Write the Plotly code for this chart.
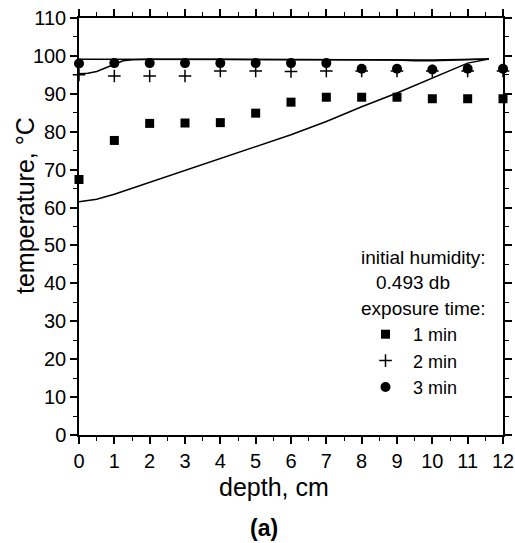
import plotly.graph_objects as go

# measured data
depth = [0, 1, 2, 3, 4, 5, 6, 7, 8, 9, 10, 11, 12]
temp_1min = [67.4, 77.7, 82.2, 82.3, 82.4, 84.9, 87.8, 89.1, 89.1, 89.1, 88.7, 88.7, 88.7]
temp_2min = [95.0, 94.7, 94.7, 94.7, 96.0, 96.0, 95.9, 96.0, 96.0, 96.0, 96.0, 96.0, 96.0]
temp_3min = [98.0, 98.1, 98.1, 98.1, 98.1, 98.1, 98.1, 98.1, 96.6, 96.6, 96.4, 96.6, 96.6]

# model curves
model1_x = [0, 0.5, 1, 2, 3, 4, 5, 6, 7, 8, 9, 10, 11, 11.6]
model1_y = [61.5, 62.2, 63.5, 66.6, 69.8, 73.0, 76.0, 79.2, 82.7, 86.6, 90.2, 94.1, 98.1, 99.2]
model2_x = [0, 0.25, 0.5, 0.75, 1, 1.25, 1.5, 2, 4, 6, 8, 10, 11.6]
model2_y = [95.3, 95.4, 95.9, 96.9, 97.9, 98.7, 99.0, 99.1, 99.1, 99.0, 99.0, 98.9, 99.2]
model3_x = [0, 2, 4, 6, 8, 9, 9.5, 10, 10.5, 11, 11.6]
model3_y = [99.1, 99.1, 99.0, 99.0, 99.0, 98.9, 98.7, 98.7, 98.8, 99.0, 99.2]

legend_names = ["1 min", "2 min", "3 min"]

FONT = "Liberation Sans, Arial, sans-serif"
L, R, T, B = 79, 12, 18, 108
W, H = 515, 543
pw, ph = W - L - R, H - T - B

def px(x):
    return (x - L) / pw

def py(y):
    return (H - B - y) / ph

fig = go.Figure()
for xs, ys in [(model1_x, model1_y), (model2_x, model2_y), (model3_x, model3_y)]:
    fig.add_trace(go.Scatter(x=xs, y=ys, mode="lines", line=dict(color="black", width=1.5),
                             showlegend=False, hoverinfo="skip"))

fig.add_trace(go.Scatter(x=depth, y=temp_1min, mode="markers", name=legend_names[0], legendgroup="a",
                         marker=dict(symbol="square", size=9, color="black"), cliponaxis=False))
fig.add_trace(go.Scatter(x=depth, y=temp_2min, mode="markers", name=legend_names[1], legendgroup="b",
                         marker=dict(symbol="cross-thin", size=9, color="black",
                                     line=dict(color="black", width=1.5)), cliponaxis=False))
fig.add_trace(go.Scatter(x=depth, y=temp_3min, mode="markers", name=legend_names[2], legendgroup="c",
                         marker=dict(symbol="circle", size=10, color="black"), cliponaxis=False))

axis_common = dict(showgrid=False, zeroline=False, showline=True, linecolor="black", linewidth=1.5,
                   mirror="ticks", ticks="outside", ticklen=7, tickwidth=1.5, tickcolor="black",
                   automargin=False,
                   tickfont=dict(family=FONT, size=20, color="black"))

fig.update_xaxes(range=[0, 12], dtick=1, tick0=0,
                 minor=dict(dtick=0.5, ticks="outside", ticklen=4, tickwidth=1.2, tickcolor="black"),
                 **axis_common)
fig.update_yaxes(range=[0, 110], dtick=10, tick0=0,
                 minor=dict(dtick=5, ticks="outside", ticklen=4, tickwidth=1.2, tickcolor="black"),
                 **axis_common)

ann = []
ann.append(dict(text="initial humidity:", x=px(359), y=py(257), xanchor="left", yanchor="middle"))
ann.append(dict(text="0.493 db", x=px(374), y=py(282), xanchor="left", yanchor="middle"))
ann.append(dict(text="exposure time:", x=px(359), y=py(308), xanchor="left", yanchor="middle"))
for a in ann:
    a.update(xref="paper", yref="paper", showarrow=False, font=dict(family=FONT, size=19, color="black"))
ann.append(dict(text="depth, cm", x=px(274), y=py(487), xref="paper", yref="paper", showarrow=False,
                xanchor="center", yanchor="middle", font=dict(family=FONT, size=25, color="black")))
ann.append(dict(text="<b>(a)</b>", x=px(264), y=py(528), xref="paper", yref="paper", showarrow=False,
                xanchor="center", yanchor="middle", font=dict(family=FONT, size=23, color="black")))
ann.append(dict(text="temperature, °C", x=px(25), y=py(206), xref="paper", yref="paper", showarrow=False,
                textangle=-90, xanchor="center", yanchor="middle",
                font=dict(family=FONT, size=25, color="black")))

fig.update_layout(
    width=W, height=H,
    margin=dict(l=L, r=R, t=T, b=B, autoexpand=False),
    paper_bgcolor="white", plot_bgcolor="white",
    annotations=ann,
    showlegend=True,
    legend=dict(x=px(358), y=py(316), xanchor="left", yanchor="top",
                bgcolor="rgba(0,0,0,0)", borderwidth=0, tracegroupgap=0,
                traceorder="grouped", itemwidth=45,
                font=dict(family=FONT, size=18, color="black")),
)

fig.write_html("out.html", config={"displayModeBar": False},
               post_script="document.body.style.margin='0px';document.body.style.overflow='hidden';")
